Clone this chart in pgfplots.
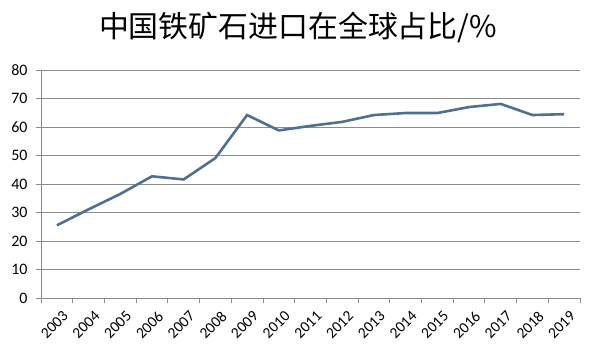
\documentclass[border=0pt]{standalone}
\usepackage{pgfplots}
\pgfplotsset{compat=1.18}
\usepackage{fontspec}
\setmainfont{Carlito}
\newfontfamily\cjk{Noto Sans CJK SC}
\definecolor{lineblue}{RGB}{79,113,145}
\definecolor{gridgray}{RGB}{140,140,140}
\begin{document}
\begin{tikzpicture}
\useasboundingbox (-41bp,-57bp) rectangle (553bp,298bp);
\begin{axis}[
  at={(0,0)}, anchor=south west,
  scale only axis, width=539bp, height=228bp,
  xmin=-0.5, xmax=16.5, ymin=0, ymax=80,
  axis x line*=bottom, axis y line*=left,
  axis line style={gridgray, line width=0.8bp, -},
  ytick={0,10,...,80},
  ymajorgrids, grid style={gridgray, line width=0.8bp},
  xtick={-0.5,0.5,...,16.5},
  x tick label as interval,
  xticklabels={2003,2004,2005,2006,2007,2008,2009,2010,2011,2012,2013,2014,2015,2016,2017,2018,2019},
  tick align=outside, major tick length=5bp,
  tick style={gridgray, line width=0.8bp},
  /pgf/number format/assume math mode=true,
  yticklabel style={font=\fontsize{16}{18}\selectfont, text=black, xshift=-5bp},
  xticklabel style={font=\fontsize{15.5}{18}\selectfont, text=black, rotate=45, anchor=north east, xshift=2bp, yshift=-5bp},
]
\addplot[lineblue, line width=2.6bp, mark=none] coordinates {
(0,25.5) (1,31.1) (2,36.5) (3,42.7) (4,41.6) (5,49.1) (6,64.2) (7,58.8)
(8,60.4) (9,61.8) (10,64.2) (11,64.9) (12,64.9) (13,67.0) (14,68.1)
(15,64.2) (16,64.5)
};
\end{axis}
\node[font=\cjk\fontsize{30}{36}\selectfont] at (257bp,271bp) {中国铁矿石进口在全球占比/\%};
\end{tikzpicture}
\end{document}
